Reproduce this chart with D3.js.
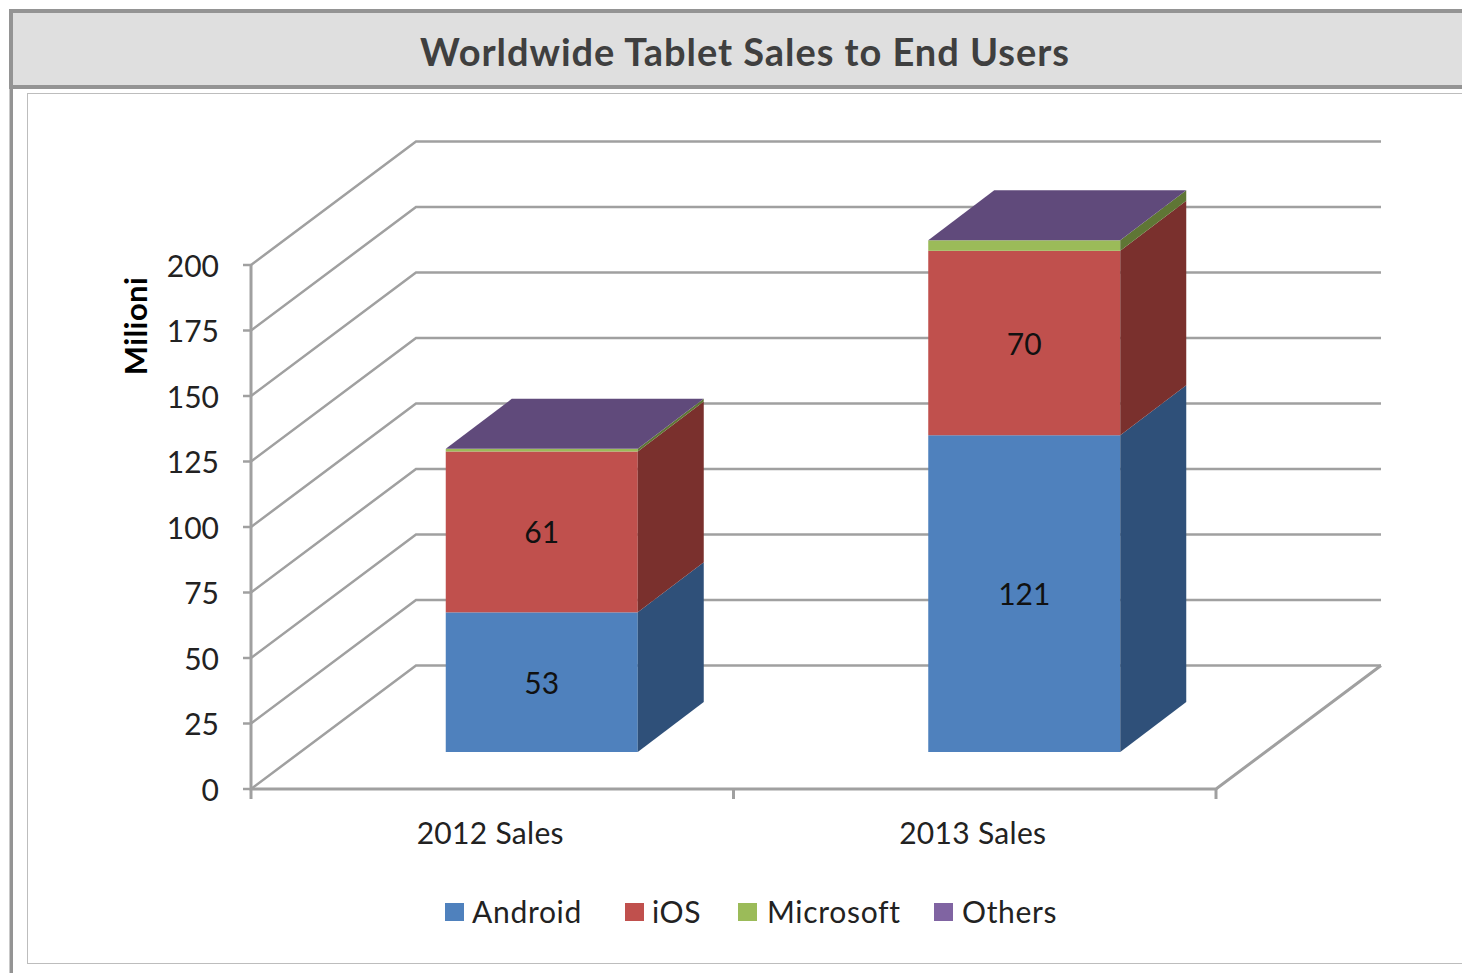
<!DOCTYPE html>
<html><head><meta charset="utf-8">
<script src="https://cdn.jsdelivr.net/npm/d3@7/dist/d3.min.js"></script>
<style>html,body{margin:0;padding:0;background:#fff;overflow:hidden}svg{display:block}text{font-family:Lato,sans-serif}</style>
</head><body><div id="c"></div>
<script>
const titleText = "Worldwide Tablet Sales to End Users";
const yAxisTitle = "Milioni";
const categories = ["2012 Sales", "2013 Sales"];
const seriesNames = ["Android", "iOS", "Microsoft", "Others"];
const android = [53.3, 120.9];
const ios = [61.4, 70.4];
const microsoft = [1.0, 4.0];
const others = [0, 0];
const yTicks = [0, 25, 50, 75, 100, 125, 150, 175, 200];
const labelled = ["Android", "iOS"];

const front = ["#4f81bd", "#c0504d", "#9bbb59", "#8064a2"];
const side = ["#2f5079", "#7a302d", "#5f7635", "#604a7b"];
const legendX = [445, 625, 738, 934];
const legendTextX = [472, 652, 767, 962];

const W = 1462, H = 973;
const svg = d3.select("#c").append("svg").attr("width", W).attr("height", H);
// frame
svg.append("rect").attr("x",0).attr("y",0).attr("width",W).attr("height",H).attr("fill","#fff");
svg.append("rect").attr("x",11).attr("y",11).attr("width",W).attr("height",76).attr("fill","#dfdfdf").attr("stroke","#949494").attr("stroke-width",4);
svg.append("rect").attr("x",9.5).attr("y",87).attr("width",3.5).attr("height",H-87).attr("fill","#949494");
svg.append("rect").attr("x",27.5).attr("y",93.5).attr("width",W).attr("height",870).attr("fill","#fff").attr("stroke","#bdbdbd").attr("stroke-width",1);
svg.append("text").attr("x",745).attr("y",66).attr("text-anchor","middle").attr("font-size",38).attr("font-weight",700).attr("letter-spacing",0.95).attr("fill","#3f3f3f").text(titleText);

const x = d3.scaleBand().domain(categories).range([251,1216]).paddingInner(0).paddingOuter(0);
const y = d3.scaleLinear().domain([0,200]).range([789,265]);
const wallDx = 165, wallDy = -123.5;
const barW = 192, barOffX = 49.5, barOffY = -37, depthX = 66, depthY = -50;
const grid = "#a0a0a0";
const g = svg.append("g");
const fmt = d3.format(".0f");
// walls
yTicks.forEach(t=>{
  const yy = y(t);
  g.append("path").attr("fill","none").attr("stroke",grid).attr("stroke-width",2.5)
   .attr("d",`M${x.range()[0]},${yy}L${x.range()[0]+wallDx},${yy+wallDy}L${x.range()[1]+wallDx},${yy+wallDy}`);
  g.append("line").attr("x1",243).attr("x2",251).attr("y1",yy).attr("y2",yy).attr("stroke",grid).attr("stroke-width",2.5);
  g.append("text").attr("x",219).attr("y",yy+11.5).attr("text-anchor","end").attr("font-size",30).attr("fill","#222").text(t);
});
// floor and axes
g.append("path").attr("fill","none").attr("stroke",grid).attr("stroke-width",3)
 .attr("d",`M251,${y(200)}L251,${y(0)}L1216,${y(0)}L${1216+wallDx},${y(0)+wallDy}`);
const xTickPos = [x.range()[0], x(categories[1]), x.range()[1]];
xTickPos.forEach(p=>g.append("line").attr("x1",p).attr("x2",p).attr("y1",y(0)).attr("y2",y(0)+10).attr("stroke",grid).attr("stroke-width",3));
categories.forEach(c=>g.append("text").attr("x",x(c)+x.bandwidth()/2-2).attr("y",844).attr("text-anchor","middle").attr("font-size",30).attr("letter-spacing",0.3).attr("fill","#222").text(c));
g.append("text").attr("transform","translate(147,326) rotate(-90)").attr("text-anchor","middle").attr("font-size",31).attr("letter-spacing",0.4).attr("font-weight",700).attr("fill","#000").text(yAxisTitle);
// bars
const values = [android, ios, microsoft, others];
categories.forEach((c,ci)=>{
  const x0 = x(c)+x.bandwidth()/2+barOffX-barW/2, x1 = x0+barW;
  let acc = 0;
  values.forEach((v,si)=>{
    const val = v[ci];
    const yb = y(acc)+barOffY, yt = y(acc+val)+barOffY;
    acc += val;
    if(val>0){
      g.append("rect").attr("x",x0).attr("y",yt).attr("width",barW).attr("height",yb-yt).attr("fill",front[si]);
      g.append("path").attr("fill",side[si]).attr("d",`M${x1},${yb}L${x1+depthX},${yb+depthY}L${x1+depthX},${yt+depthY}L${x1},${yt}Z`);
      if(labelled.includes(seriesNames[si])){
        g.append("text").attr("x",(x0+x1)/2).attr("y",(yb+yt)/2+11.5).attr("text-anchor","middle").attr("font-size",30).attr("fill","#111").text(fmt(val));
      }
    }
  });
  const yt = y(acc)+barOffY;
  g.append("path").attr("fill",side[3]).attr("d",`M${x0},${yt}L${x1},${yt}L${x1+depthX},${yt+depthY}L${x0+depthX},${yt+depthY}Z`);
});
// legend
seriesNames.forEach((n,i)=>{
  g.append("rect").attr("x",legendX[i]).attr("y",903).attr("width",19).attr("height",18).attr("fill",front[i]);
  g.append("text").attr("x",legendTextX[i]).attr("y",922.5).attr("font-size",30).attr("letter-spacing",0.7).attr("fill","#222").text(n);
});
</script></body></html>
